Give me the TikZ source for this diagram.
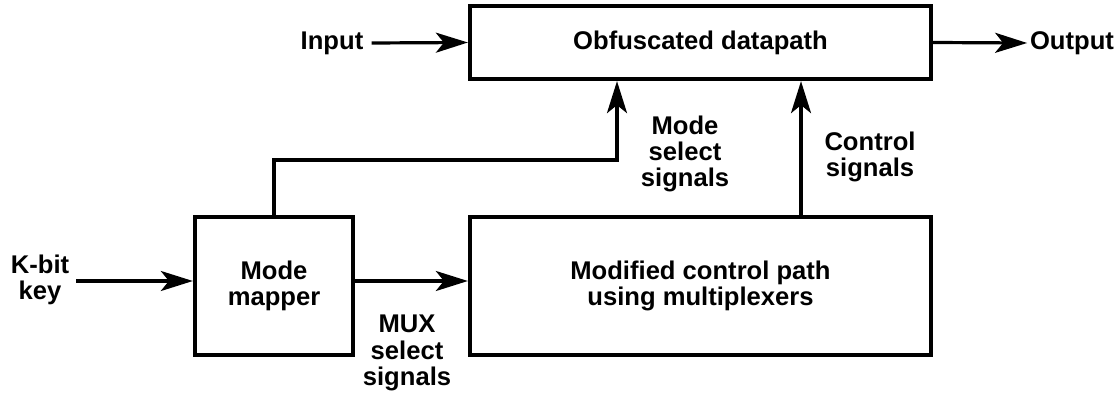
\documentclass[tikz,border=0pt]{standalone}
\usepackage{fontspec}
\setmainfont{Liberation Sans}
\usetikzlibrary{arrows.meta,calc}
\begin{document}
\begin{tikzpicture}[x=0.75pt,y=-0.75pt,
  every node/.style={font=\fontsize{19.2}{19.8}\selectfont\bfseries, align=center},
  blk/.style={draw, line width=3.2pt, inner sep=0pt},
  lbl/.style={inner sep=1pt},
  arr/.style={line width=2.4pt, -{Stealth[length=24pt,width=15pt,inset=6pt]}},
  ln/.style={line width=2.4pt}]
\useasboundingbox (0,0) rectangle (1114,395);
\node[blk, minimum width=345.75pt, minimum height=54.75pt] (obf) at (700.5,42.5) {Obfuscated datapath};
\node[blk, minimum width=118.5pt, minimum height=103.5pt] (mm) at (274,286) {Mode\\mapper};
\node[blk, minimum width=345.75pt, minimum height=103.5pt] (mcp) at (700.5,286) {Modified control path\\using multiplexers};
\node[lbl] (in) at (332,43) {Input};
\node[lbl] (out) at (1072,43) {Output};
\node[lbl] (key) at (40,280) {K-bit\\key};
\node[lbl] (msl) at (685,154) {Mode\\select\\signals};
\node[lbl] (csl) at (870,157) {Control\\signals};
\node[lbl] (mux) at (407,353) {MUX\\select\\signals};
\coordinate (bend) at (617,160);
\coordinate (cx) at (801,0);
\draw[arr] ([xshift=5pt]in.east) -- (obf.west);
\draw[arr] (obf.east) -- ([xshift=-1pt]out.west);
\draw[arr] ([xshift=4pt]key.east |- 0,281) -- (mm.west |- 0,281);
\draw[arr] (mm.east |- 0,281) -- (mcp.west |- 0,281);
\draw[arr] (mm.north) |- (bend) -- (bend |- obf.south);
\draw[arr] (mcp.north -| cx) -- (obf.south -| cx);
\end{tikzpicture}
\end{document}
